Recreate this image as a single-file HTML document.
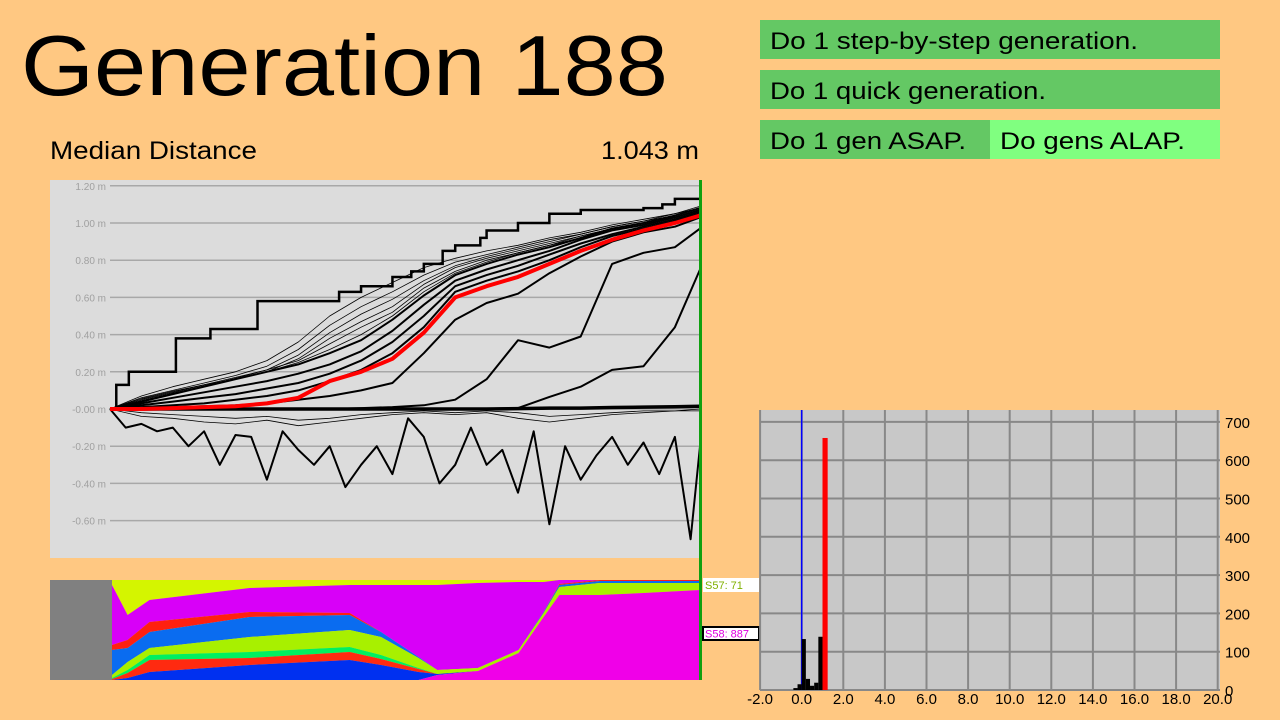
<!DOCTYPE html>
<html><head><meta charset="utf-8"><style>
html,body{margin:0;padding:0;background:#ffc882;}
svg{display:block;font-family:"Liberation Sans",sans-serif;}
</style></head><body>
<svg id="root" width="1280" height="720" viewBox="0 0 1280 720" xmlns="http://www.w3.org/2000/svg">
<rect x="0" y="0" width="1280" height="720" fill="#ffc882"/>
<text x="21" y="95" font-size="85" fill="#000" textLength="647" lengthAdjust="spacingAndGlyphs">Generation 188</text>
<text x="50" y="159" font-size="25" fill="#000" textLength="207" lengthAdjust="spacingAndGlyphs">Median Distance</text>
<text x="601" y="159" font-size="25" fill="#000" textLength="98" lengthAdjust="spacingAndGlyphs">1.043 m</text>

<g><rect x="760" y="20" width="460" height="39" fill="#64c864"/><text x="770" y="49" font-size="24" fill="#000" textLength="368" lengthAdjust="spacingAndGlyphs">Do 1 step-by-step generation.</text></g>
<g><rect x="760" y="70" width="460" height="39" fill="#64c864"/><text x="770" y="99" font-size="24" fill="#000" textLength="276" lengthAdjust="spacingAndGlyphs">Do 1 quick generation.</text></g>
<g><rect x="760" y="120" width="230" height="39" fill="#64c864"/><text x="770" y="149" font-size="24" fill="#000" textLength="196" lengthAdjust="spacingAndGlyphs">Do 1 gen ASAP.</text></g>
<g><rect x="990" y="120" width="230" height="39" fill="#80ff80"/><text x="1000" y="149" font-size="24" fill="#000" textLength="185" lengthAdjust="spacingAndGlyphs">Do gens ALAP.</text></g>

<rect x="50" y="180" width="650" height="378" fill="#dcdcdc"/>
<g id="dist"></g>
<rect x="50" y="580" width="62" height="100" fill="#808080"/>
<g id="species"></g>
<rect x="699" y="180" width="3" height="500" fill="#10a010"/>
<g><rect x="703" y="578" width="56" height="14" fill="#fff"/><text x="705" y="589" font-size="11" fill="#80b000">S57: 71</text></g>
<g><rect x="703" y="627" width="56" height="13" fill="#fff" stroke="#000" stroke-width="2"/><text x="705" y="637.5" font-size="11" fill="#e000e0">S58: 887</text></g>

<rect x="760" y="410" width="460" height="280" fill="#c8c8c8"/>
<g id="hist"></g>
</svg>
<script>
const NS="http://www.w3.org/2000/svg";
// ---- distance chart data ----
const gens=[0,10,20,30,40,50,60,70,80,90,100,110,120,130,140,150,160,170,180,188];
const yTicks=[1.2,1.0,0.8,0.6,0.4,0.2,0,-0.2,-0.4,-0.6];
const yTickLabels=["1.20 m","1.00 m","0.80 m","0.60 m","0.40 m","0.20 m","-0.00 m","-0.20 m","-0.40 m","-0.60 m"];
const maxGens=[0,2,6,21,32,47,73,80,90,96,100,106,110,118,120,130,140,150,170,176,180,188];
const maxSeries=[0,0.13,0.2,0.38,0.43,0.58,0.63,0.66,0.71,0.74,0.78,0.85,0.88,0.92,0.96,1.0,1.05,1.07,1.08,1.1,1.13,1.13];
const thin1=[0,0.07,0.12,0.16,0.2,0.26,0.36,0.5,0.6,0.68,0.76,0.81,0.85,0.88,0.92,0.95,0.99,1.02,1.05,1.09];
const thin2=[0,0.06,0.1,0.14,0.18,0.23,0.32,0.45,0.55,0.63,0.72,0.79,0.83,0.87,0.91,0.94,0.98,1.01,1.05,1.08];
const thin3=[0,0.055,0.095,0.13,0.17,0.21,0.29,0.41,0.51,0.59,0.69,0.77,0.82,0.86,0.9,0.94,0.98,1.01,1.04,1.08];
const thin4=[0,0.05,0.09,0.13,0.16,0.2,0.27,0.38,0.47,0.55,0.67,0.76,0.81,0.85,0.89,0.93,0.97,1.0,1.04,1.08];
const thin5=[0,0.045,0.085,0.125,0.165,0.21,0.26,0.35,0.44,0.52,0.65,0.74,0.8,0.84,0.88,0.93,0.97,1.0,1.04,1.08];
const thin6=[0,0.04,0.08,0.12,0.16,0.2,0.25,0.32,0.4,0.5,0.63,0.73,0.79,0.84,0.88,0.92,0.97,1.0,1.04,1.08];
const thick1=[0,0.04,0.08,0.12,0.16,0.2,0.24,0.3,0.37,0.48,0.61,0.72,0.78,0.83,0.87,0.92,0.97,1.0,1.04,1.08];
const thick2=[0,0.03,0.06,0.09,0.12,0.15,0.19,0.24,0.31,0.42,0.56,0.69,0.75,0.8,0.85,0.91,0.96,0.99,1.03,1.07];
const thick3=[0,0.02,0.04,0.06,0.08,0.11,0.14,0.19,0.26,0.36,0.5,0.66,0.72,0.77,0.83,0.89,0.94,0.98,1.02,1.06];
const thick4=[0,0.01,0.02,0.03,0.05,0.07,0.1,0.15,0.21,0.3,0.44,0.63,0.69,0.74,0.8,0.87,0.93,0.97,1.01,1.05];
const medianSeries=[0,0,0.005,0.01,0.015,0.03,0.06,0.15,0.2,0.27,0.41,0.6,0.66,0.71,0.78,0.85,0.91,0.96,1.0,1.04];
const lowA=[0,0.005,0.01,0.015,0.02,0.03,0.05,0.07,0.1,0.14,0.3,0.48,0.57,0.62,0.73,0.82,0.9,0.95,0.98,1.03];
const lowB=[0,0,0,0,0,0,0,0,0.005,0.01,0.02,0.05,0.16,0.37,0.33,0.39,0.78,0.84,0.87,0.97];
const lowC=[0,0,0,0,0,0,0,0,0,0,0,0,0.002,0.005,0.065,0.12,0.21,0.23,0.44,0.75];
const zeroLine=[0,0,0,0,0,0,0,0,0,0,0,0,0,0.002,0.005,0.005,0.008,0.01,0.012,0.015];
const neg1=[0,-0.02,-0.03,-0.04,-0.05,-0.04,-0.06,-0.05,-0.03,-0.02,-0.01,-0.02,-0.01,-0.02,-0.04,-0.03,-0.02,-0.01,-0.01,0];
const neg2=[0,-0.04,-0.05,-0.07,-0.08,-0.06,-0.09,-0.07,-0.05,-0.03,-0.02,-0.03,-0.02,-0.05,-0.07,-0.05,-0.03,-0.02,-0.01,-0.01];
const minGens=[0,5,10,15,20,25,30,35,40,45,50,55,60,65,70,75,80,85,90,95,100,105,110,115,120,125,130,135,140,145,150,155,160,165,170,175,180,185,188];
const minSeries=[0,-0.1,-0.08,-0.12,-0.1,-0.2,-0.12,-0.3,-0.14,-0.15,-0.38,-0.12,-0.22,-0.3,-0.2,-0.42,-0.3,-0.2,-0.35,-0.05,-0.15,-0.4,-0.3,-0.1,-0.3,-0.22,-0.45,-0.12,-0.62,-0.2,-0.38,-0.25,-0.15,-0.3,-0.18,-0.35,-0.15,-0.7,-0.2];
// ---- species data ----
const speciesGens=[0,5,12,44,76,86,98,104,117,130,138,143,156,170,188];
const spYellow=[5,35,20,8,5,5,5,5,3,2,2,0,0,0,0];
const spPurple=[60,25,22,24,28,47,72,85,85,68,30,4,0,0,0];
const spRed=[5,8,10,5,2,0,0,0,0,0,0,1,1,1,1];
const spBlue=[25,14,16,20,15,5,1,0,0,0,1,2,2,2,2];
const spLime=[3,8,7,15,17,18,10,4,3,3,4,8,12,10,7];
const spGreen=[1,3,5,6,5,4,1,0,0,0,0,0,0,0,0];
const spRed2=[1,5,12,7,8,6,3,0,0,0,0,0,0,0,0];
const spBlue2=[0,2,8,15,20,15,8,1,0,0,0,0,0,0,0];
const spPink=[0,0,0,0,0,0,0,5,9,27,63,85,85,87,90];
// ---- histogram data ----
const binStarts=[-0.4,-0.2,0,0.2,0.4,0.6,0.8,1.0];
const binCounts=[5,15,133,29,11,19,139,658];
const histXTicks=[-2,0,2,4,6,8,10,12,14,16,18,20];
const histYTicks=[0,100,200,300,400,500,600,700];
const medianValue=1.043;

function xg(g){return 110+g*(590/188);}
function yv(v){return 409-v*186;}
const dist=document.getElementById('dist');
yTicks.forEach((t,i)=>{
  const l=document.createElementNS(NS,'line');
  l.setAttribute('x1',110);l.setAttribute('x2',700);l.setAttribute('y1',yv(t));l.setAttribute('y2',yv(t));
  l.setAttribute('stroke','#a8a8a8');l.setAttribute('stroke-width','1.5');
  
  
  dist.appendChild(l);
  const tx=document.createElementNS(NS,'text');
  tx.setAttribute('x',106);tx.setAttribute('y',yv(t)+4);tx.setAttribute('text-anchor','end');
  tx.setAttribute('font-size','10');tx.setAttribute('fill','#a0a0a0');
  tx.textContent=yTickLabels[i];
  
  
  dist.appendChild(tx);
});
function drawLine(xsArr,vals,w,col,name){
  const p=document.createElementNS(NS,'polyline');
  p.setAttribute('points',vals.map((v,i)=>xg(xsArr[i]).toFixed(1)+','+yv(v).toFixed(1)).join(' '));
  p.setAttribute('fill','none');p.setAttribute('stroke',col);p.setAttribute('stroke-width',w);
  p.setAttribute('stroke-linejoin','round');
  
  
  dist.appendChild(p);
}
function stepLine(xsArr,vals,name){
  const pts=[];
  vals.forEach((v,i)=>{ if(i>0) pts.push(xg(xsArr[i])+','+yv(vals[i-1])); pts.push(xg(xsArr[i])+','+yv(v)); });
  const p=document.createElementNS(NS,'polyline');
  p.setAttribute('points',pts.join(' '));p.setAttribute('fill','none');p.setAttribute('stroke','#000');p.setAttribute('stroke-width','2.5');
  
  
  dist.appendChild(p);
}
[thin1,thin2,thin3,thin4,thin5,thin6].forEach(a=>drawLine(gens,a,0.8,'#000','percentile-thin-line'));
[neg1,neg2].forEach(a=>drawLine(gens,a,0.8,'#000','lower-thin-line'));
[thick1,thick2,thick3,thick4,lowA,lowB,lowC].forEach(a=>drawLine(gens,a,2,'#000','percentile-line'));
drawLine(gens,zeroLine,3.5,'#000','near-zero-line');
drawLine(minGens,minSeries,2,'#000','min-line');
stepLine(maxGens,maxSeries,'max-line');
drawLine(gens,medianSeries,4,'#ff0000','median-line');

// species
function xs(g){return 112+g*(588/188);}
const sp=document.getElementById('species');
const bands=[[spYellow,'#d4f500','species-band-yellow'],[spPurple,'#d800f8','species-band-purple'],[spRed,'#ff2010','species-band-red'],[spBlue,'#0a6cf0','species-band-blue'],[spLime,'#a8f000','species-band-lime'],[spGreen,'#00f060','species-band-green'],[spRed2,'#ff2a10','species-band-red-2'],[spBlue2,'#0030f0','species-band-blue-2'],[spPink,'#f000e8','species-band-pink']];
const cum=speciesGens.map(()=>0);
bands.forEach(b=>{
  const arr=b[0];
  const top=speciesGens.map((g,i)=>xs(g).toFixed(1)+','+(580+cum[i]).toFixed(1));
  const bot=speciesGens.map((g,i)=>xs(g).toFixed(1)+','+(580+cum[i]+arr[i]).toFixed(1)).reverse();
  speciesGens.forEach((g,i)=>cum[i]+=arr[i]);
  const p=document.createElementNS(NS,'polygon');
  p.setAttribute('points',top.concat(bot).join(' '));p.setAttribute('fill',b[1]);
  
  
  sp.appendChild(p);
});

// histogram
function hx(v){return 801.7+v*20.8;}
function hy(c){return 690-c*0.383;}
const h=document.getElementById('hist');
histXTicks.forEach(t=>{
  const l=document.createElementNS(NS,'line');
  l.setAttribute('x1',hx(t));l.setAttribute('x2',hx(t));l.setAttribute('y1',410);l.setAttribute('y2',690);
  l.setAttribute('stroke','#888');l.setAttribute('stroke-width','2');
  
  
  h.appendChild(l);
  const tx=document.createElementNS(NS,'text');
  tx.setAttribute('x',hx(t));tx.setAttribute('y',704);tx.setAttribute('text-anchor','middle');tx.setAttribute('font-size','15');
  tx.textContent=t.toFixed(1);
  
  
  h.appendChild(tx);
});
histYTicks.forEach(t=>{
  const l=document.createElementNS(NS,'line');
  l.setAttribute('x1',760);l.setAttribute('x2',1220);l.setAttribute('y1',hy(t));l.setAttribute('y2',hy(t));
  l.setAttribute('stroke','#888');l.setAttribute('stroke-width','2');
  
  
  h.appendChild(l);
  const tx=document.createElementNS(NS,'text');
  tx.setAttribute('x',1225);tx.setAttribute('y',hy(t)+6);tx.setAttribute('font-size','15');
  tx.textContent=t;
  
  
  h.appendChild(tx);
});
const bl=document.createElementNS(NS,'line');
bl.setAttribute('x1',hx(0));bl.setAttribute('x2',hx(0));bl.setAttribute('y1',410);bl.setAttribute('y2',690);
bl.setAttribute('stroke','#0000ff');bl.setAttribute('stroke-width','1.5');


h.appendChild(bl);
binStarts.forEach((s,i)=>{
  const r=document.createElementNS(NS,'rect');
  const x0=hx(s),x1=hx(s+0.2);
  const isMed=medianValue>=s&&medianValue<s+0.2;
  r.setAttribute('x',x0);r.setAttribute('width',(x1-x0)+(isMed?1:0));r.setAttribute('y',hy(binCounts[i]));r.setAttribute('height',690-hy(binCounts[i]));
  r.setAttribute('fill',isMed?'#ff0000':'#000');
  
  
  h.appendChild(r);
});
</script>
</body></html>
